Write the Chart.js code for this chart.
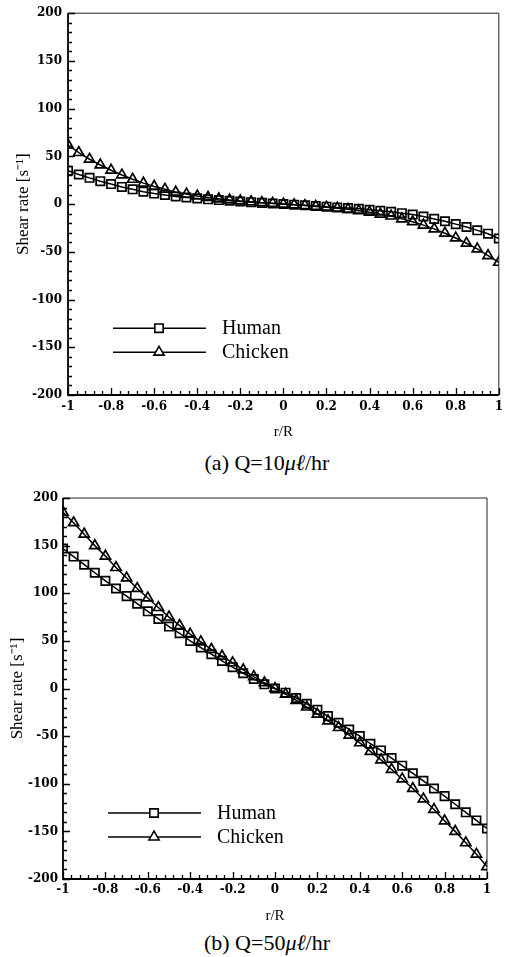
<!DOCTYPE html>
<html lang="en">
<head>
  <title>Shear rate profiles</title>
  <script src="https://cdn.jsdelivr.net/npm/chart.js"></script>
  <style>
    body {
      margin: 0;
      background: #fff;
      width: 508px;
      height: 957px;
      position: relative;
      overflow: hidden;
    }

    .box {
      position: absolute;
      left: 0;
      width: 508px;
    }

    .caption {
      position: absolute;
      width: 240px;
      text-align: center;
      font-family: 'Liberation Serif', serif;
      font-size: 22px;
      line-height: 26px;
      color: #000;
    }
  </style>
</head>
<body>

<div class="box" style="top:0; height:445px;"><canvas id="chartA"></canvas></div>
<div class="caption" style="left:147px; top:450px;">(a) Q=10<i>μℓ</i>/hr</div>

<div class="box" style="top:485px; height:440px;"><canvas id="chartB"></canvas></div>
<div class="caption" style="left:147px; top:930px;">(b) Q=50<i>μℓ</i>/hr</div>

<script>
  // r/R positions (41 points)
  const rR = [-1, -0.95, -0.9, -0.85, -0.8, -0.75, -0.7, -0.65, -0.6, -0.55, -0.5,
              -0.45, -0.4, -0.35, -0.3, -0.25, -0.2, -0.15, -0.1, -0.05, 0,
              0.05, 0.1, 0.15, 0.2, 0.25, 0.3, 0.35, 0.4, 0.45, 0.5,
              0.55, 0.6, 0.65, 0.7, 0.75, 0.8, 0.85, 0.9, 0.95, 1];

  // (a) Q=10
  const humanA = [35, 31, 27.5, 24, 21, 18, 15.5, 13, 11, 9.5, 8,
                  7, 6, 5, 4.2, 3.5, 2.7, 2, 1.3, 0.6, 0,
                  -0.6, -1.3, -2, -2.7, -3.5, -4.2, -5, -6, -7, -8,
                  -9.5, -11, -13, -15.5, -18, -21, -24, -27.5, -31, -36];
  const chickenA = [62, 54, 47, 41, 35.5, 30.5, 26, 22, 18.5, 15.5, 12.5,
                    10.5, 8.5, 7, 5.5, 4.3, 3.3, 2.4, 1.5, 0.8, 0,
                    -0.8, -1.5, -2.4, -3.3, -4.3, -5.5, -7, -8.5, -10.5, -12.5,
                    -15.5, -18.5, -22, -26, -30.5, -35.5, -41, -47, -54, -61];

  // (b) Q=50
  const humanB = [147, 138.5, 130, 121.5, 113, 105, 97, 89, 81, 73, 65,
                  58, 50, 43, 36, 29, 22.4, 16, 10, 4.4, 0,
                  -4.4, -10, -16, -22.4, -29, -36, -43, -50, -58, -65,
                  -73, -81, -89, -97, -105, -113, -121.5, -130, -138.5, -147];
  const chickenB = [185, 174, 162, 150, 139, 127, 116, 105, 95, 85, 75,
                    66, 57, 49, 41, 34, 27, 19.5, 12.5, 6, 0,
                    -6, -12.5, -19.5, -27, -34, -41, -49, -57, -66, -75,
                    -85, -95, -105, -116, -127, -139, -150, -162, -174, -187];

  const seriesNames = ['Human', 'Chicken'];
  const yTicks = { min: -200, max: 200, step: 50, minor: 10 };
  const xTicks = { min: -1, max: 1, step: 0.2, minor: 0.04 };

  const serif = 'Liberation Serif';
  const tickFont = { family: 'DejaVu Serif', size: 12, weight: 'bold' };

  // inward ticks, frame and legend
  const framePlugin = {
    id: 'frame',
    beforeDatasetsDraw(chart) {
      const { ctx, chartArea: a, scales: { x, y } } = chart;
      ctx.save();
      ctx.strokeStyle = '#222';
      ctx.lineWidth = 1;
      ctx.beginPath();
      ctx.moveTo(a.left, a.top);
      ctx.lineTo(a.right, a.top);
      ctx.lineTo(a.right, a.bottom);
      ctx.stroke();

      ctx.strokeStyle = '#000';
      ctx.lineWidth = 1.8;
      ctx.beginPath();
      ctx.moveTo(a.left, a.top);
      ctx.lineTo(a.left, a.bottom);
      ctx.lineTo(a.right, a.bottom);
      ctx.stroke();

      ctx.lineWidth = 1.3;
      ctx.beginPath();
      const ny = Math.round((yTicks.max - yTicks.min) / yTicks.minor);
      for (let i = 0; i <= ny; i++) {
        const v = yTicks.min + i * yTicks.minor;
        const py = Math.round(y.getPixelForValue(v)) + 0.5;
        const len = (i % 5 === 0) ? 7 : 4;
        ctx.moveTo(a.left, py);
        ctx.lineTo(a.left + len, py);
      }
      const nx = Math.round((xTicks.max - xTicks.min) / xTicks.minor);
      for (let i = 0; i <= nx; i++) {
        const v = xTicks.min + i * xTicks.minor;
        const px = Math.round(x.getPixelForValue(v)) + 0.5;
        const len = (i % 5 === 0) ? 7 : 4;
        ctx.moveTo(px, a.bottom);
        ctx.lineTo(px, a.bottom - len);
      }
      ctx.stroke();
      ctx.restore();
    },
    afterDatasetsDraw(chart) {
      const { ctx, chartArea: a } = chart;
      ctx.save();
      chart.data.datasets.forEach((ds, i) => {
        const yy = a.top + 315 + i * 24;
        const x1 = a.left + 45, x2 = a.left + 138, xm = a.left + 91;
        ctx.strokeStyle = '#000';
        ctx.lineWidth = 1.6;
        ctx.beginPath();
        ctx.moveTo(x1, yy);
        ctx.lineTo(x2, yy);
        ctx.stroke();
        ctx.fillStyle = '#fff';
        Chart.helpers.drawPoint(ctx, {
          pointStyle: ds.pointStyle, radius: ds.pointRadius, borderWidth: 1.7
        }, xm, yy);
        ctx.fillStyle = '#000';
        ctx.font = '20px "' + serif + '"';
        ctx.textBaseline = 'middle';
        ctx.fillText(ds.label, a.left + 154, yy + 1);
      });
      ctx.restore();
    }
  };

  function makeChart(id, human, chicken, opt) {
    const mk = (label, vals, style) => ({
      label: label,
      data: rR.map((r, i) => ({ x: r, y: vals[i] })),
      borderColor: '#000',
      borderWidth: 1.5,
      pointStyle: style,
      pointRadius: 5.9,
      pointBorderWidth: 1.7,
      pointBorderColor: '#000',
      pointBackgroundColor: 'rgba(0,0,0,0)',
      tension: 0
    });

    return new Chart(document.getElementById(id), {
      type: 'line',
      data: {
        datasets: [mk(seriesNames[0], human, 'rect'), mk(seriesNames[1], chicken, 'triangle')]
      },
      options: {
        responsive: true,
        maintainAspectRatio: false,
        animation: false,
        events: [],
        layout: { padding: { top: 13, right: opt.right, left: 0, bottom: 0 } },
        plugins: { legend: { display: false }, tooltip: { enabled: false } },
        scales: {
          x: {
            type: 'linear',
            min: xTicks.min,
            max: xTicks.max,
            afterFit: s => { s.height = opt.xh; },
            grid: { display: false, drawTicks: false },
            border: { display: false },
            ticks: {
              stepSize: xTicks.step,
              padding: opt.xpad,
              color: '#000',
              font: tickFont,
              maxRotation: 0,
              callback: v => +v.toFixed(1)
            },
            title: {
              display: true,
              text: 'r/R',
              color: '#000',
              font: { family: serif, size: 15 },
              padding: { top: 0, bottom: opt.tpad }
            }
          },
          y: {
            type: 'linear',
            min: yTicks.min,
            max: yTicks.max,
            afterFit: s => { s.width = opt.yw; },
            grid: { display: false, drawTicks: false },
            border: { display: false },
            ticks: {
              stepSize: yTicks.step,
              padding: opt.ypad,
              color: '#000',
              font: tickFont
            },
            title: {
              display: true,
              text: 'Shear rate [s⁻¹]',
              color: '#000',
              font: { family: serif, size: 17 },
              padding: { top: opt.ytpad, bottom: 0 }
            }
          }
        }
      },
      plugins: [framePlugin]
    });
  }

  makeChart('chartA', humanA, chickenA, { right: 7, xh: 50, yw: 68, xpad: 5, ypad: 6, tpad: 4, ytpad: 13 });
  makeChart('chartB', humanB, chickenB, { right: 21, xh: 46, yw: 63, xpad: 4, ypad: 5, tpad: 0, ytpad: 7 });
</script>

</body>
</html>
